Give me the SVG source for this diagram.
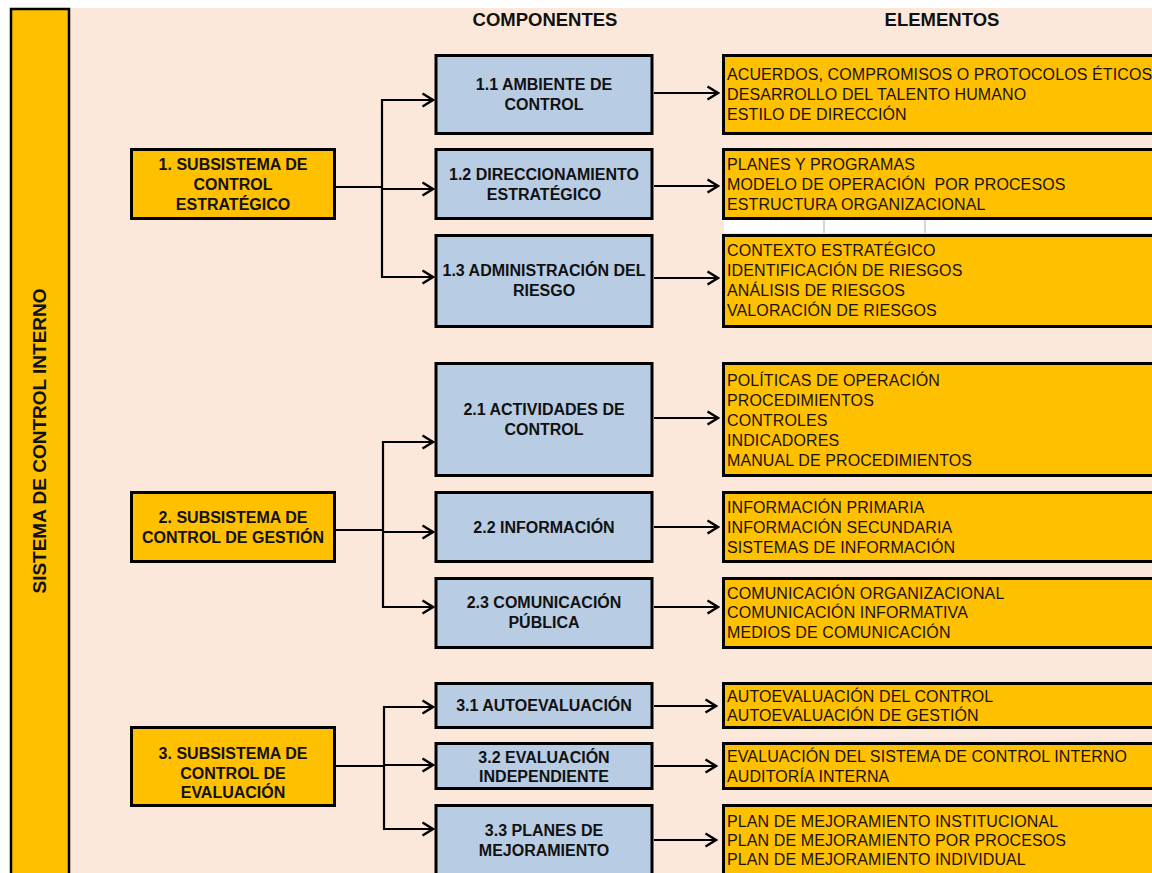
<svg xmlns="http://www.w3.org/2000/svg" width="1152" height="873" viewBox="0 0 1152 873">
<defs>
<marker id="ah" markerWidth="14" markerHeight="16" viewBox="0 0 14 16" refX="12" refY="8" orient="auto" markerUnits="userSpaceOnUse">
<path d="M1.5,1.5 L12,8 L1.5,14.5" fill="none" stroke="#000" stroke-width="2.4"/>
</marker>
<style>
.sub{fill:#FFC000;stroke:#000;stroke-width:3}
.comp{fill:#B8CCE4;stroke:#000;stroke-width:3}
.el{fill:#FFC000;stroke:#000;stroke-width:3}
.tb{font-family:"Liberation Sans",Arial,sans-serif;font-weight:bold;font-size:16px;fill:#111;text-anchor:middle}
.te{font-family:"Liberation Sans",Arial,sans-serif;font-size:16px;letter-spacing:0.1px;fill:#1a1208}
.hd{font-family:"Liberation Sans",Arial,sans-serif;font-weight:bold;font-size:18.5px;fill:#111;text-anchor:middle}
.ln{fill:none;stroke:#000;stroke-width:2.2}
.ar{fill:none;stroke:#000;stroke-width:2.2;marker-end:url(#ah)}
</style>
</defs>
<rect x="0" y="0" width="1152" height="873" fill="#fff"/>
<rect x="70" y="8" width="1082" height="865" fill="#FCE8DA"/>
<g id="sistema">
<rect x="11" y="9" width="58" height="880" fill="#FFC000" stroke="#000" stroke-width="2.5"/>
<text class="hd" style="font-size:19px" transform="translate(46,441) rotate(-90)">SISTEMA DE CONTROL INTERNO</text>
</g>
<g id="headers">
<text class="hd" x="545" y="26">COMPONENTES</text>
<text class="hd" x="942" y="26">ELEMENTOS</text>
</g>
<g id="sub1"><rect class="sub" x="131.5" y="149.5" width="203" height="69"/>
<text class="tb" x="233" y="170">1. SUBSISTEMA DE</text><text class="tb" x="233" y="190">CONTROL</text><text class="tb" x="233" y="210">ESTRATÉGICO</text></g>
<g id="sub2"><rect class="sub" x="131.5" y="492.5" width="203" height="69"/>
<text class="tb" x="233" y="523">2. SUBSISTEMA DE</text><text class="tb" x="233" y="543">CONTROL DE GESTIÓN</text></g>
<g id="sub3"><rect class="sub" x="131.5" y="727.5" width="203" height="78"/>
<text class="tb" x="233" y="759">3. SUBSISTEMA DE</text><text class="tb" x="233" y="779">CONTROL DE</text><text class="tb" x="233" y="798">EVALUACIÓN</text></g>

<g id="c11"><rect class="comp" x="436" y="55.5" width="216" height="78"/>
<text class="tb" x="544" y="90">1.1 AMBIENTE DE</text><text class="tb" x="544" y="110">CONTROL</text></g>
<g id="c12"><rect class="comp" x="436" y="149.5" width="216" height="69"/>
<text class="tb" x="544" y="180">1.2 DIRECCIONAMIENTO</text><text class="tb" x="544" y="200">ESTRATÉGICO</text></g>
<g id="c13"><rect class="comp" x="436" y="235.5" width="216" height="91"/>
<text class="tb" x="544" y="276">1.3 ADMINISTRACIÓN DEL</text><text class="tb" x="544" y="296">RIESGO</text></g>
<g id="c21"><rect class="comp" x="436" y="363.5" width="216" height="112"/>
<text class="tb" x="544" y="415">2.1 ACTIVIDADES DE</text><text class="tb" x="544" y="435">CONTROL</text></g>
<g id="c22"><rect class="comp" x="436" y="492.5" width="216" height="69"/>
<text class="tb" x="544" y="533">2.2 INFORMACIÓN</text></g>
<g id="c23"><rect class="comp" x="436" y="578.5" width="216" height="69"/>
<text class="tb" x="544" y="608">2.3 COMUNICACIÓN</text><text class="tb" x="544" y="628">PÚBLICA</text></g>
<g id="c31"><rect class="comp" x="436" y="683.5" width="216" height="44"/>
<text class="tb" x="544" y="711">3.1 AUTOEVALUACIÓN</text></g>
<g id="c32"><rect class="comp" x="436" y="743.5" width="216" height="45"/>
<text class="tb" x="544" y="763">3.2 EVALUACIÓN</text><text class="tb" x="544" y="782">INDEPENDIENTE</text></g>
<g id="c33"><rect class="comp" x="436" y="805.5" width="216" height="80"/>
<text class="tb" x="544" y="836">3.3 PLANES DE</text><text class="tb" x="544" y="856">MEJORAMIENTO</text></g>

<g id="gap"><rect x="724" y="220" width="430" height="13" fill="#fff"/>
<line x1="824" y1="220" x2="824" y2="233" stroke="#c8c8c8" stroke-width="1.5"/>
<line x1="925" y1="220" x2="925" y2="233" stroke="#c8c8c8" stroke-width="1.5"/></g>

<g id="e11"><rect class="el" x="723.5" y="55.5" width="440" height="78"/>
<text class="te" x="727" y="80">ACUERDOS, COMPROMISOS O PROTOCOLOS ÉTICOS</text>
<text class="te" x="727" y="100">DESARROLLO DEL TALENTO HUMANO</text>
<text class="te" x="727" y="120">ESTILO DE DIRECCIÓN</text></g>
<g id="e12"><rect class="el" x="723.5" y="149.5" width="440" height="69"/>
<text class="te" x="727" y="170">PLANES Y PROGRAMAS</text>
<text class="te" x="727" y="190" xml:space="preserve">MODELO DE OPERACIÓN  POR PROCESOS</text>
<text class="te" x="727" y="210">ESTRUCTURA ORGANIZACIONAL</text></g>
<g id="e13"><rect class="el" x="723.5" y="235.5" width="440" height="91"/>
<text class="te" x="727" y="256">CONTEXTO ESTRATÉGICO</text>
<text class="te" x="727" y="276">IDENTIFICACIÓN DE RIESGOS</text>
<text class="te" x="727" y="296">ANÁLISIS DE RIESGOS</text>
<text class="te" x="727" y="316">VALORACIÓN DE RIESGOS</text></g>
<g id="e21"><rect class="el" x="723.5" y="363.5" width="440" height="112"/>
<text class="te" x="727" y="386">POLÍTICAS DE OPERACIÓN</text>
<text class="te" x="727" y="406">PROCEDIMIENTOS</text>
<text class="te" x="727" y="426">CONTROLES</text>
<text class="te" x="727" y="446">INDICADORES</text>
<text class="te" x="727" y="466">MANUAL DE PROCEDIMIENTOS</text></g>
<g id="e22"><rect class="el" x="723.5" y="492.5" width="440" height="69"/>
<text class="te" x="727" y="513">INFORMACIÓN PRIMARIA</text>
<text class="te" x="727" y="533">INFORMACIÓN SECUNDARIA</text>
<text class="te" x="727" y="553">SISTEMAS DE INFORMACIÓN</text></g>
<g id="e23"><rect class="el" x="723.5" y="578.5" width="440" height="69"/>
<text class="te" x="727" y="599">COMUNICACIÓN ORGANIZACIONAL</text>
<text class="te" x="727" y="618">COMUNICACIÓN INFORMATIVA</text>
<text class="te" x="727" y="638">MEDIOS DE COMUNICACIÓN</text></g>
<g id="e31"><rect class="el" x="723.5" y="683.5" width="440" height="44"/>
<text class="te" x="727" y="702">AUTOEVALUACIÓN DEL CONTROL</text>
<text class="te" x="727" y="721">AUTOEVALUACIÓN DE GESTIÓN</text></g>
<g id="e32"><rect class="el" x="723.5" y="743.5" width="440" height="45"/>
<text class="te" x="727" y="762">EVALUACIÓN DEL SISTEMA DE CONTROL INTERNO</text>
<text class="te" x="727" y="782">AUDITORÍA INTERNA</text></g>
<g id="e33"><rect class="el" x="723.5" y="805.5" width="440" height="80"/>
<text class="te" x="727" y="827">PLAN DE MEJORAMIENTO INSTITUCIONAL</text>
<text class="te" x="727" y="846">PLAN DE MEJORAMIENTO POR PROCESOS</text>
<text class="te" x="727" y="865">PLAN DE MEJORAMIENTO INDIVIDUAL</text></g>

<g id="connectors">
<path class="ln" d="M336,187 H382"/>
<path class="ln" d="M382,99 V278"/>
<path class="ar" d="M381,100 H433"/>
<path class="ar" d="M382,189 H433"/>
<path class="ar" d="M381,277 H433"/>
<path class="ln" d="M336,530 H383"/>
<path class="ln" d="M383,441 V608"/>
<path class="ar" d="M382,442 H433"/>
<path class="ar" d="M383,532 H433"/>
<path class="ar" d="M382,607 H433"/>
<path class="ln" d="M336,766 H384"/>
<path class="ln" d="M384,706 V830"/>
<path class="ar" d="M383,707 H433"/>
<path class="ar" d="M384,765 H433"/>
<path class="ar" d="M383,829 H433"/>
<path class="ar" d="M654,93 H718"/>
<path class="ar" d="M654,186 H718"/>
<path class="ar" d="M654,278 H718"/>
<path class="ar" d="M654,418 H718"/>
<path class="ar" d="M654,527 H718"/>
<path class="ar" d="M654,607 H718"/>
<path class="ar" d="M654,706 H716"/>
<path class="ar" d="M654,766 H716"/>
<path class="ar" d="M654,840 H716"/>
</g>
</svg>
